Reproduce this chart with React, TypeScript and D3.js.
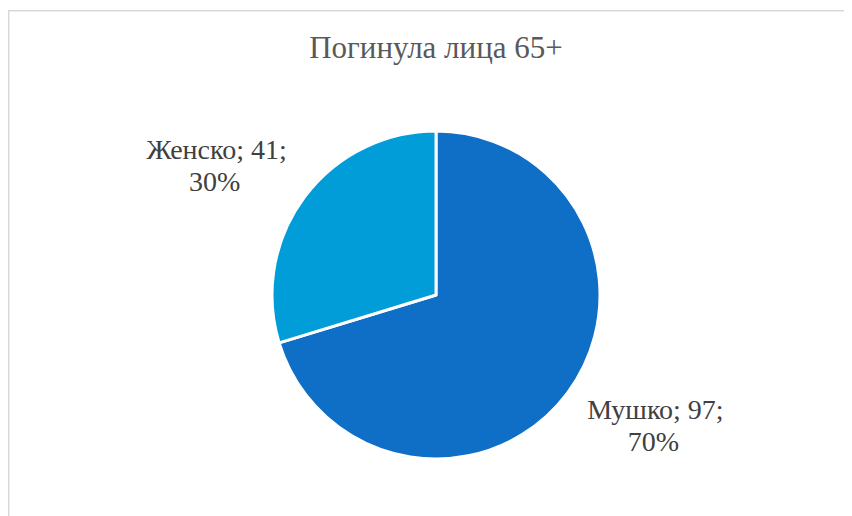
import { useEffect, useRef } from "react";
import * as d3 from "d3";

const categories = ["Мушко", "Женско"];
const values = [97, 41];
const percents = ["70%", "30%"];
const colors = ["#0F6FC6", "#009DD9"];
const title = "Погинула лица 65+";

export default function App() {
  const svgRef = useRef<SVGSVGElement>(null);
  const width = 844;
  const height = 508;

  useEffect(() => {
    if (!svgRef.current) return;
    document.body.style.overflow = "hidden";
    const svg = d3.select(svgRef.current);
    svg.selectAll("*").remove();

    const font = "\"Liberation Serif\", \"Times New Roman\", serif";

    // chart frame: only top and left edges are inside the window
    svg.append("line")
      .attr("x1", 0.75).attr("x2", width)
      .attr("y1", 2.75).attr("y2", 2.75)
      .attr("stroke", "#d9d9d9").attr("stroke-width", 1.5);
    svg.append("line")
      .attr("x1", 0.75).attr("x2", 0.75)
      .attr("y1", 2).attr("y2", height)
      .attr("stroke", "#d9d9d9").attr("stroke-width", 1.5);

    svg.append("text")
      .attr("x", 428).attr("y", 50)
      .attr("text-anchor", "middle")
      .attr("fill", "#595959")
      .style("font-family", font)
      .style("font-size", "31px")
      .text(title);

    const cx = 428, cy = 287, r = 164;
    const g = svg.append("g").attr("transform", `translate(${cx},${cy})`);

    const pie = d3.pie<number>().sort(null).value(d => d);
    const arcs = pie(values);
    const arc = d3.arc<d3.PieArcDatum<number>>().innerRadius(0).outerRadius(r);

    g.selectAll("path.slice")
      .data(arcs)
      .enter()
      .append("path")
      .attr("class", "slice")
      .attr("d", arc)
      .attr("fill", (_, i) => colors[i])
      .attr("stroke", "#fff")
      .attr("stroke-width", 3)
      .attr("stroke-linejoin", "round");

    // labels sit on an ellipse around the pie, at each slice's mid angle
    const rx = 273, ry = 218;
    arcs.forEach((a, i) => {
      const mid = (a.startAngle + a.endAngle) / 2;
      const lx = Math.sin(mid) * rx;
      const ly = -Math.cos(mid) * ry;
      const t = g.append("text")
        .attr("text-anchor", "middle")
        .attr("fill", "#404040")
        .style("font-family", font)
        .style("font-size", "28px");
      t.append("tspan").attr("x", lx).attr("y", ly - 6).text(`${categories[i]}; ${values[i]};`);
      t.append("tspan").attr("x", lx - 2).attr("y", ly + 26).text(percents[i]);
    });
  }, []);

  return <svg ref={svgRef} width={width} height={height} style={{ display: "block" }} />;
}
